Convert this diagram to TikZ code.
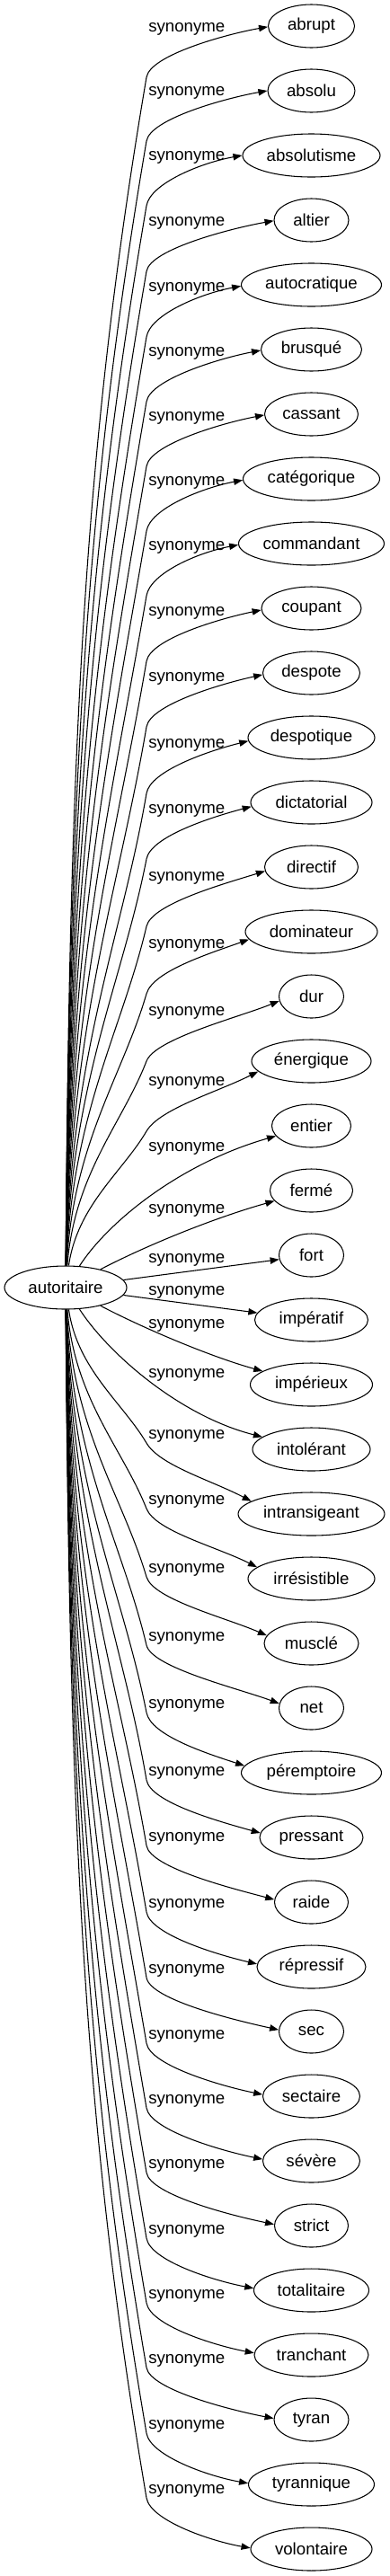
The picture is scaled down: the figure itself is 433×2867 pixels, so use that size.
\documentclass[tikz,border=0pt]{standalone}
\usepackage{fontspec}
\setmainfont{Liberation Sans}
\usetikzlibrary{arrows.meta,calc,shapes.geometric}
\tikzset{
  tgt/.style={draw, ellipse, line width=0.8pt, inner sep=0pt, minimum height=36pt,
    font=\fontsize{14}{16}\selectfont},
  lab/.style={inner sep=0pt, anchor=west, font=\fontsize{14}{16}\selectfont},
  syn/.style={draw, line width=0.8pt, -{Triangle[length=7.5pt,width=5.5pt]}}
}
\begin{document}
\begin{tikzpicture}[x=0.75pt,y=-0.75pt]
\useasboundingbox (0,0) rectangle (433,2867);
\node[tgt, minimum width=102pt] (a) at (73,1433) {autoritaire};
\foreach \i/\txt/\rx/\L in {0/abrupt/48/32, 1/absolu/48.5/103, 2/absolutisme/76.5/175,
  3/altier/41.5/248, 4/autocratique/78/321, 5/brusqué/56/393, 6/cassant/52/465,
  7/catégorique/76/537, 8/commandant/81/609, 9/coupant/55.5/682, 10/despote/54/755,
  11/despotique/70.5/829, 12/dictatorial/67.5/902, 13/directif/52/977,
  14/dominateur/73.5/1052, 15/dur/36/1127, 16/énergique/66.5/1205, 17/entier/44/1278,
  18/fermé/46/1347, 19/fort/36/1402, 20/impératif/63/1438, 21/impérieux/68/1475,
  22/intolérant/65.5/1530, 23/intransigeant/81.5/1598, 24/irrésistible/70.5/1671,
  25/musclé/52.5/1747, 26/net/36/1823, 27/péremptoire/78/1898, 28/pressant/57.5/1973,
  29/raide/41/2046, 30/répressif/60.5/2120, 31/sec/36/2193, 32/sectaire/54/2266,
  33/sévère/54/2338, 34/strict/41/2410, 35/totalitaire/64/2483, 36/tranchant/63.5/2555,
  37/tyran/41.5/2627, 38/tyrannique/70/2700, 39/volontaire/67.5/2772} {
  \node[tgt, minimum width={1.5pt*\rx}] (n\i) at (346.5,{29+72*\i}) {\txt};
  \node[lab] (l\i) at (165,\L) {synonyme};
}
% upper edges
\foreach \i/\L in {0/32,1/103,2/175,3/248,4/321,5/393,6/465,7/537,8/609,9/682,
  10/755,11/829,12/902,13/977,14/1052,15/1127,16/1205} {
  \pgfmathsetmacro\eyT{29+72*\i}
  \pgfmathsetmacro\eyB{\L+54}
  \pgfmathsetmacro\eD{1409-\eyB}
  \pgfmathsetmacro\eS{max(0.17,min(0.8,88/\eD))}
  \pgfmathsetmacro\eAx{76+1500/\eD}
  \pgfmathsetmacro\eAy{1409-0.45*\eD}
  \pgfmathsetmacro\eBx{163-\eS*0.3*\eD}
  \pgfmathsetmacro\eBy{\eyB+0.3*\eD}
  \pgfmathsetmacro\eCx{163+\eS*25}
  \pgfmathsetmacro\eCy{\eyB-25}
  \pgfmathtruncatemacro\eAng{180+max(0,(\eyB-\eyT-55)*0.5)}
  \pgfmathsetmacro\eDy{45*tan(10+0.8*max(0,\eyB-\eyT-57))}
  \coordinate (b\i) at (163,\eyB);
  \draw[syn] (a) .. controls (\eAx,\eAy) and (\eBx,\eBy) .. (b\i)
    .. controls (\eCx,\eCy) and ($(n\i.\eAng)+(-45,\eDy)$) .. (n\i.\eAng);
}
% lower edges
\foreach \i/\L in {23/1598,24/1671,25/1747,26/1823,27/1898,28/1973,29/2046,30/2120,
  31/2193,32/2266,33/2338,34/2410,35/2483,36/2555,37/2627,38/2700,39/2772} {
  \pgfmathsetmacro\eyT{29+72*\i}
  \pgfmathsetmacro\eyB{\L+8}
  \pgfmathsetmacro\eD{\eyB-1457}
  \pgfmathsetmacro\eS{max(0.17,min(0.8,88/\eD))}
  \pgfmathsetmacro\eAx{76+1500/\eD}
  \pgfmathsetmacro\eAy{1457+0.45*\eD}
  \pgfmathsetmacro\eBx{163-\eS*0.3*\eD}
  \pgfmathsetmacro\eBy{\eyB-0.3*\eD}
  \pgfmathsetmacro\eCx{163+\eS*25}
  \pgfmathsetmacro\eCy{\eyB+25}
  \pgfmathtruncatemacro\eAng{180-max(0,(\eyT-\eyB-55)*0.5)}
  \pgfmathsetmacro\eDy{45*tan(10+0.8*max(0,\eyT-\eyB-57))}
  \coordinate (b\i) at (163,\eyB);
  \draw[syn] (a) .. controls (\eAx,\eAy) and (\eBx,\eBy) .. (b\i)
    .. controls (\eCx,\eCy) and ($(n\i.\eAng)+(-45,-\eDy)$) .. (n\i.\eAng);
}
% edges near the centre
\draw[syn] (a) .. controls (120,1360) and (200,1295) .. (n17);
\draw[syn] (a) .. controls (165,1385) and (240,1355) .. (n18);
\draw[syn] (a) -- (n19);
\draw[syn] (a) -- (n20);
\draw[syn] (a) .. controls (165,1481) and (238,1511) .. (n21);
\draw[syn] (a) .. controls (120,1506) and (200,1576) .. (n22);
\end{tikzpicture}
\end{document}
